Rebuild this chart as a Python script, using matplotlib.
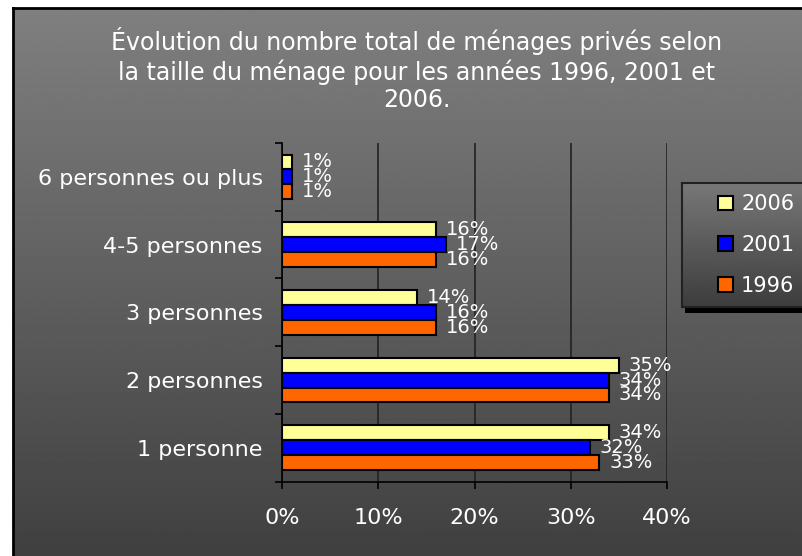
import numpy as np
import matplotlib
matplotlib.use("Agg")
import matplotlib.pyplot as plt
from matplotlib.patches import Rectangle

# data
categories = ["1 personne", "2 personnes", "3 personnes", "4-5 personnes", "6 personnes ou plus"]
years = ["2006", "2001", "1996"]
pct_2006 = [34, 35, 14, 16, 1]
pct_2001 = [32, 34, 16, 17, 1]
pct_1996 = [33, 34, 16, 16, 1]
xticks = [0, 10, 20, 30, 40]

colors = {"2006": "#FFFF99", "2001": "#0000FF", "1996": "#FF6600"}
values = {"2006": pct_2006, "2001": pct_2001, "1996": pct_1996}

plt.rcParams["font.family"] = ["DejaVu Sans"]

W, H = 803, 556
fig = plt.figure(figsize=(W / 100, H / 100), dpi=100, facecolor="white")

def grad(c_top, c_bot, n=256):
    g = np.linspace(c_top, c_bot, n)[:, None]
    return np.repeat(g, 2, axis=1)

# background panel with gradient
bg = fig.add_axes([13 / W, 0, 1 - 13 / W, (H - 8) / H])
bg.imshow(grad(0.50, 0.25), cmap="gray", vmin=0, vmax=1, aspect="auto",
          extent=[0, 1, 0, 1], origin="upper")
bg.set_xlim(0, 1)
bg.set_ylim(0, 1)
bg.set_xticks([])
bg.set_yticks([])
for s in ["right", "bottom"]:
    bg.spines[s].set_visible(False)
for s in ["top", "left"]:
    bg.spines[s].set_color("black")
    bg.spines[s].set_linewidth(2)

fig.text(416.5 / W, (H - 27) / H,
         "Évolution du nombre total de ménages privés selon\n"
         "la taille du ménage pour les années 1996, 2001 et\n2006.",
         ha="center", va="top", color="white", fontsize=17, linespacing=1.2)

# main axes
ax = fig.add_axes([282.3 / W, (H - 481.7) / H, 384.4 / W, 338.7 / H])
ax.patch.set_visible(False)
y = np.arange(len(categories))
h = 0.22
offsets = {"2006": h, "2001": 0, "1996": -h}
bars = {}
for yr in years:
    bars[yr] = ax.barh(y + offsets[yr], values[yr], height=h, color=colors[yr],
                       edgecolor="black", linewidth=1.5, label=yr, zorder=3)
    for yi, v in zip(y, values[yr]):
        ax.annotate(f"{v}%", (v, yi + offsets[yr]), xytext=(7, 0),
                    textcoords="offset points", ha="left", va="center",
                    color="white", fontsize=14, zorder=4)

ax.set_xlim(0, 40)
ax.set_ylim(-0.5, len(categories) - 0.5)
ax.set_xticks(xticks)
ax.set_xticklabels([f"{t}%" for t in xticks], color="white", fontsize=16)
ax.set_yticks(y)
ax.set_yticklabels(categories, color="white", fontsize=16)
ax.set_yticks(np.arange(-0.5, len(categories)), minor=True)
ax.tick_params(axis="y", which="major", length=0, pad=14)
ax.tick_params(axis="y", which="minor", length=5, width=1.2, color="black")
ax.tick_params(axis="x", length=5, width=1.2, color="black", pad=14)
ax.grid(axis="x", color="#222222", linewidth=1.2)
ax.set_axisbelow(True)
for s in ["top", "right"]:
    ax.spines[s].set_visible(False)
for s in ["left", "bottom"]:
    ax.spines[s].set_color("black")
    ax.spines[s].set_linewidth(1.2)

# legend box with gradient and shadow
lx0, ly0, lx1, ly1 = 682, 183, 806, 307
fig.patches.append(Rectangle(((lx0 + 3) / W, (H - ly1 - 6) / H), (lx1 - lx0) / W,
                             (ly1 - ly0) / H, transform=fig.transFigure,
                             facecolor="black", edgecolor="none", zorder=1))
lg = fig.add_axes([lx0 / W, (H - ly1) / H, (lx1 - lx0) / W, (ly1 - ly0) / H], zorder=2)
lg.imshow(grad(0.47, 0.24), cmap="gray", vmin=0, vmax=1, aspect="auto",
          extent=[0, 1, 0, 1], origin="upper")
lg.set_xlim(0, 1)
lg.set_ylim(0, 1)
lg.set_xticks([])
lg.set_yticks([])
for s in lg.spines.values():
    s.set_color("#222222")
    s.set_linewidth(1.5)
lg.legend([bars[yr] for yr in years], years, loc="center left", bbox_to_anchor=(0.14, 0.5),
          frameon=False, fontsize=15, labelcolor="white", handlelength=0.7,
          handleheight=0.7, handletextpad=0.4, labelspacing=1.0)

fig.savefig("out.png", dpi=100, facecolor="white")
